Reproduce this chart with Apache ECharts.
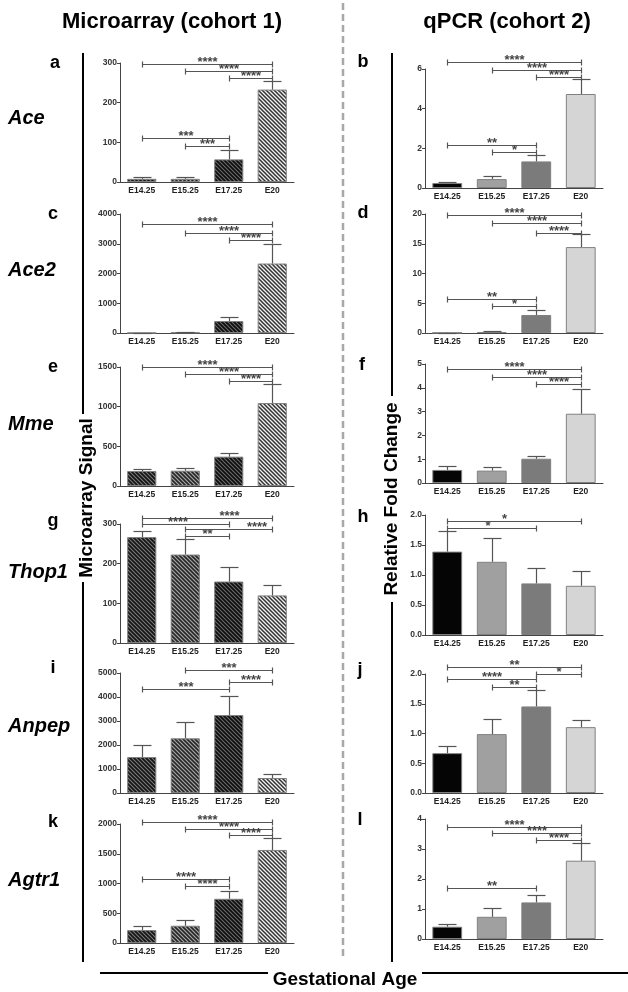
<!DOCTYPE html>
<html>
<head>
<meta charset="utf-8">
<script src="https://cdn.jsdelivr.net/npm/echarts@6/dist/echarts.min.js"></script>
<style>
html,body{margin:0;padding:0;background:#fff;}
#chart{width:628px;height:992px;}
</style>
</head>
<body>
<div id="chart"></div>
<script>
const categories = ['E14.25', 'E15.25', 'E17.25', 'E20'];

// Microarray (cohort 1) panels: mean and upper error bar, brackets [from, to, y, stars]
const aMean = [8, 8, 57, 233];
const aUpper = [12, 12, 81, 254];
const aBrackets = [[0, 3, 298, '****'], [1, 3, 281, '****'], [2, 3, 262, '****'], [0, 2, 112, '***'], [1, 2, 92, '***']];

const cMean = [5, 20, 402, 2335];
const cUpper = [8, 50, 536, 2994];
const cBrackets = [[0, 3, 3665, '****'], [1, 3, 3374, '****'], [2, 3, 3117, '****']];

const eMean = [189, 193, 370, 1046];
const eUpper = [218, 227, 416, 1282];
const eBrackets = [[0, 3, 1500, '****'], [1, 3, 1412, '****'], [2, 3, 1319, '****']];

const gMean = [267, 223, 155, 120];
const gUpper = [283, 263, 191, 147];
const gBrackets = [[0, 3, 314, '****'], [0, 2, 300, '****'], [1, 3, 287, '****'], [1, 2, 270, '**']];

const iMean = [1500, 2278, 3250, 625];
const iUpper = [2000, 2972, 4056, 790];
const iBrackets = [[1, 3, 5125, '***'], [2, 3, 4611, '****'], [0, 2, 4319, '***']];

const kMean = [218, 290, 743, 1564];
const kUpper = [279, 385, 877, 1771];
const kBrackets = [[0, 3, 2039, '****'], [1, 3, 1922, '****'], [2, 3, 1816, '****'], [0, 2, 1084, '****'], [1, 2, 950, '****']];

// qPCR (cohort 2) panels
const bMean = [0.25, 0.45, 1.34, 4.74];
const bUpper = [0.3, 0.62, 1.66, 5.48];
const bBrackets = [[0, 3, 6.34, '****'], [1, 3, 5.93, '****'], [2, 3, 5.58, '****'], [0, 2, 2.18, '**'], [1, 2, 1.82, '*']];

const dMean = [0.05, 0.17, 3.03, 14.44];
const dUpper = [0.08, 0.39, 3.88, 16.69];
const dBrackets = [[0, 3, 19.78, '****'], [1, 3, 18.43, '****'], [2, 3, 16.85, '****'], [0, 2, 5.67, '**'], [1, 2, 4.55, '*']];

const fMean = [0.55, 0.52, 1.02, 2.91];
const fUpper = [0.73, 0.66, 1.13, 3.96];
const fBrackets = [[0, 3, 4.8, '****'], [1, 3, 4.47, '****'], [2, 3, 4.16, '****']];

const hMean = [1.39, 1.22, 0.86, 0.82];
const hUpper = [1.73, 1.61, 1.11, 1.06];
const hBrackets = [[0, 3, 1.905, '*'], [0, 2, 1.79, '*']];

const jMean = [0.67, 0.99, 1.455, 1.107];
const jUpper = [0.79, 1.24, 1.725, 1.23];
const jBrackets = [[0, 3, 2.11, '**'], [2, 3, 2.0, '*'], [0, 2, 1.916, '****'], [1, 2, 1.787, '**']];

const lMean = [0.41, 0.74, 1.22, 2.61];
const lUpper = [0.5, 1.05, 1.47, 3.2];
const lBrackets = [[0, 3, 3.74, '****'], [1, 3, 3.52, '****'], [2, 3, 3.29, '****'], [0, 2, 1.71, '**']];

// y-axis ticks per panel (a..l)
const yMax = [300, 6, 4000, 20, 1500, 5, 300, 2, 5000, 2, 2000, 4];
const yStep = [100, 2, 1000, 5, 500, 1, 100, 0.5, 1000, 0.5, 500, 1];

const panelLetters = ['a', 'b', 'c', 'd', 'e', 'f', 'g', 'h', 'i', 'j', 'k', 'l'];
const geneNames = ['Ace', 'Ace2', 'Mme', 'Thop1', 'Anpep', 'Agtr1'];

const means = [aMean, bMean, cMean, dMean, eMean, fMean, gMean, hMean, iMean, jMean, kMean, lMean];
const uppers = [aUpper, bUpper, cUpper, dUpper, eUpper, fUpper, gUpper, hUpper, iUpper, jUpper, kUpper, lUpper];
const brackets = [aBrackets, bBrackets, cBrackets, dBrackets, eBrackets, fBrackets, gBrackets, hBrackets, iBrackets, jBrackets, kBrackets, lBrackets];

// ---- layout (pixels) ----
const gridBoxes = [
  [120, 63, 174, 119], [425, 69, 178, 119],
  [120, 214, 174, 119], [425, 214, 178, 119],
  [120, 367, 174, 119], [425, 364, 178, 119],
  [120, 524, 174, 119], [425, 515, 178, 120],
  [120, 673, 174, 120], [425, 674, 178, 119],
  [120, 824, 174, 119], [425, 819, 178, 120]
];
// horizontal nudges (px) of star labels to avoid overlaps, by panel index
const starNudge = { 6: [22, -8, 28, 0], 7: [-10, -4] };

function hatch(bg, fg, w) {
  const c = document.createElement('canvas');
  c.width = 4; c.height = 4;
  const x = c.getContext('2d');
  x.fillStyle = bg; x.fillRect(0, 0, 4, 4);
  x.strokeStyle = fg; x.lineWidth = w;
  x.beginPath();
  x.moveTo(-1, -1); x.lineTo(5, 5);
  x.moveTo(-1, 3); x.lineTo(1, 5);
  x.moveTo(3, -1); x.lineTo(5, 1);
  x.stroke();
  return { image: c, repeat: 'repeat' };
}
const leftColors = [hatch('#7a7a7a', '#151515', 1.7), hatch('#a8a8a8', '#262626', 1.6), hatch('#6a6a6a', '#0e0e0e', 1.7), hatch('#f0f0f0', '#333', 1.5)];
const rightColors = ['#050505', '#a0a0a0', '#7b7b7b', '#d5d5d5'];

const FONT = '"Liberation Sans", Arial, sans-serif';
const grids = [], xAxes = [], yAxes = [], series = [];

for (let p = 0; p < 12; p++) {
  const [l, t, w, h] = gridBoxes[p];
  const isRight = p % 2 === 1;
  grids.push({ left: l, top: t, width: w, height: h, containLabel: false });
  xAxes.push({
    type: 'category', gridIndex: p, data: categories,
    axisLine: { lineStyle: { color: '#444', width: 1 } },
    axisTick: { show: false },
    axisLabel: { fontSize: 8.5, fontWeight: 'bold', color: '#222', margin: 4, fontFamily: FONT, interval: 0 }
  });
  const dec = yStep[p] < 1 && yMax[p] <= 2;
  yAxes.push({
    type: 'value', gridIndex: p, min: 0, max: yMax[p], interval: yStep[p],
    axisLine: { show: true, lineStyle: { color: '#444', width: 1 } },
    axisTick: { show: true, length: 3, lineStyle: { color: '#444' } },
    splitLine: { show: false },
    axisLabel: {
      fontSize: 8.5, fontWeight: 'bold', color: '#333', margin: 3, fontFamily: FONT,
      formatter: v => dec ? v.toFixed(1) : String(v)
    }
  });
  const colors = isRight ? rightColors : leftColors;
  series.push({
    type: 'bar', xAxisIndex: p, yAxisIndex: p, barWidth: '67%',
    data: means[p].map((v, i) => ({ value: v, itemStyle: { color: colors[i], borderColor: '#808080', borderWidth: 1 } })),
    z: 2
  });
  series.push({
    type: 'custom', xAxisIndex: p, yAxisIndex: p, z: 5,
    encode: { x: 0, y: [1, 2] },
    data: means[p].map((v, i) => [i, v, uppers[p][i]]),
    renderItem: (params, api) => {
      const idx = api.value(0);
      const top = api.coord([idx, api.value(2)]);
      const base = api.coord([idx, api.value(1)]);
      const x = Math.round(top[0]) + 0.5, yt = Math.round(top[1]) + 0.5;
      const hw = 9;
      return {
        type: 'group', children: [
          { type: 'line', shape: { x1: x, y1: base[1], x2: x, y2: yt }, style: { stroke: '#555', lineWidth: 1.2 } },
          { type: 'line', shape: { x1: x - hw, y1: yt, x2: x + hw, y2: yt }, style: { stroke: '#555', lineWidth: 1.2 } }
        ]
      };
    }
  });
  const br = brackets[p];
  const nudge = starNudge[p] || [];
  series.push({
    type: 'custom', xAxisIndex: p, yAxisIndex: p, z: 6, clip: false,
    encode: { x: [0, 1], y: 2 },
    data: br.map(b => [b[0], b[1], b[2]]),
    renderItem: (params, api) => {
      const b = br[params.dataIndex];
      const p1 = api.coord([api.value(0), api.value(2)]);
      const p2 = api.coord([api.value(1), api.value(2)]);
      const y = Math.round(p1[1]) + 0.5;
      const x1 = Math.round(p1[0]) + 0.5, x2 = Math.round(p2[0]) + 0.5;
      const st = { stroke: '#555', lineWidth: 1.2 };
      const dx = nudge[params.dataIndex] || 0;
      return {
        type: 'group', children: [
          { type: 'line', shape: { x1: x1, y1: y, x2: x2, y2: y }, style: st },
          { type: 'line', shape: { x1: x1, y1: y - 3, x2: x1, y2: y + 3 }, style: st },
          { type: 'line', shape: { x1: x2, y1: y - 3, x2: x2, y2: y + 3 }, style: st },
          { type: 'text', x: (x1 + x2) / 2 + dx, y: y - 2, style: { text: b[3], fill: '#444', font: 'bold 13px ' + FONT, align: 'center', verticalAlign: 'middle' } }
        ]
      };
    }
  });
}

// ---- decorations ----
const graphic = [];
const txt = (x, y, text, font, extra) => Object.assign({ type: 'text', x: x, y: y, style: { text: text, font: font, fill: '#000', align: 'center', verticalAlign: 'middle' } }, extra || {});
const ln = (x1, y1, x2, y2, w, color, dash) => ({ type: 'line', shape: { x1: x1, y1: y1, x2: x2, y2: y2 }, style: { stroke: color, lineWidth: w, lineDash: dash || null } });

graphic.push(txt(172, 22, 'Microarray (cohort 1)', 'bold 22px ' + FONT));
graphic.push(txt(507, 22, 'qPCR (cohort 2)', 'bold 22px ' + FONT));
graphic.push(ln(343, 3, 343, 956, 2.5, '#a8a8a8', [7, 4]));
graphic.push(ln(83, 53, 83, 414, 2, '#000'));
graphic.push(ln(83, 582, 83, 962, 2, '#000'));
graphic.push(ln(392, 53, 392, 396, 2, '#000'));
graphic.push(ln(392, 602, 392, 962, 2, '#000'));
graphic.push(ln(100, 973, 268, 973, 2, '#000'));
graphic.push(ln(422, 973, 628, 973, 2, '#000'));
graphic.push(txt(87, 498, 'Microarray Signal', 'bold 19px ' + FONT, { rotation: Math.PI / 2 }));
graphic.push(txt(392, 499, 'Relative Fold Change', 'bold 19px ' + FONT, { rotation: Math.PI / 2 }));
graphic.push(txt(345, 980, 'Gestational Age', 'bold 19px ' + FONT));

const letterPos = [[55, 63], [363, 62], [53, 214], [363, 213], [53, 367], [362, 365], [53, 521], [363, 517], [53, 668], [360, 670], [53, 822], [360, 820]];
letterPos.forEach((pos, i) => graphic.push(txt(pos[0], pos[1], panelLetters[i], 'bold 18px ' + FONT)));
const geneY = [118, 270, 424, 572, 726, 880];
geneNames.forEach((g, i) => graphic.push({ type: 'text', x: 8, y: geneY[i], style: { text: g, font: 'italic bold 20px ' + FONT, fill: '#000', align: 'left', verticalAlign: 'middle' } }));

const chart = echarts.init(document.getElementById('chart'), null, { renderer: 'canvas' });
chart.setOption({
  animation: false,
  backgroundColor: '#fff',
  grid: grids, xAxis: xAxes, yAxis: yAxes, series: series, graphic: graphic
});
</script>
</body>
</html>
